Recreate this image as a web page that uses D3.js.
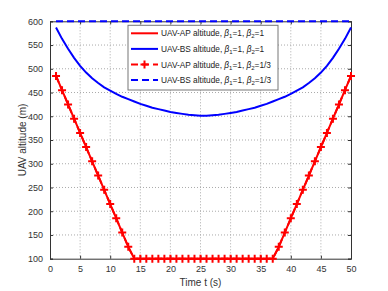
<!DOCTYPE html>
<html>
<head>
<meta charset="utf-8">
<script src="https://cdn.jsdelivr.net/npm/d3@7"></script>
<style>
  body { margin: 0; background: #fff; }
  text { font-family: "Liberation Sans", Arial, sans-serif; }
</style>
</head>
<body>
<div id="chart"></div>
<script>
var width = 388, height = 291;

// time axis (s)
var timeSteps = d3.range(1, 51);

// UAV-AP altitude, beta1=1, beta2=1
var apAltB1 = [485, 455, 425, 395, 365, 335, 305, 275, 245, 215, 185, 155, 125,
               100, 100, 100, 100, 100, 100, 100, 100, 100, 100, 100, 100, 100,
               100, 100, 100, 100, 100, 100, 100, 100, 100, 100, 100,
               125, 155, 185, 215, 245, 275, 305, 335, 365, 395, 425, 455, 485];
// UAV-BS altitude, beta1=1, beta2=1
var bsAltB1 = [587, 563, 542, 523, 506, 492, 480, 470, 461, 454, 447, 441, 436,
               431, 426, 422, 418, 415, 412, 409, 407, 405, 403, 402, 401,
               401, 402, 403, 405, 407, 409, 412, 415, 418, 422, 426, 431, 436,
               441, 447, 454, 461, 470, 480, 492, 506, 523, 542, 563, 587];
// UAV-AP altitude, beta1=1, beta2=1/3
var apAltB13 = [485, 455, 425, 395, 365, 335, 305, 275, 245, 215, 185, 155, 125,
                100, 100, 100, 100, 100, 100, 100, 100, 100, 100, 100, 100, 100,
                100, 100, 100, 100, 100, 100, 100, 100, 100, 100, 100,
                125, 155, 185, 215, 245, 275, 305, 335, 365, 395, 425, 455, 485];
// UAV-BS altitude, beta1=1, beta2=1/3
var bsAltB13 = [600, 600, 600, 600, 600, 600, 600, 600, 600, 600, 600, 600, 600,
                600, 600, 600, 600, 600, 600, 600, 600, 600, 600, 600, 600,
                600, 600, 600, 600, 600, 600, 600, 600, 600, 600, 600, 600, 600,
                600, 600, 600, 600, 600, 600, 600, 600, 600, 600, 600, 600];

var xTicks = d3.range(0, 51, 5);
var yTicks = d3.range(100, 601, 50);

var legendLabels = ["UAV-AP altitude, ", "UAV-BS altitude, ", "UAV-AP altitude, ", "UAV-BS altitude, "];
var legendBeta2 = ["1", "1", "1/3", "1/3"];

var margin = {left: 50, right: 37, top: 21.3, bottom: 32.3};
var plotW = width - margin.left - margin.right;
var plotH = height - margin.top - margin.bottom;

var svg = d3.select("#chart")
            .append("svg")
            .attr("width", width)
            .attr("height", height);

svg.append("rect").attr("width", width).attr("height", height).attr("fill", "#fff");

var g = svg.append("g").attr("transform", "translate(" + margin.left + "," + margin.top + ")");

var x = d3.scaleLinear().domain([0, 50]).range([0, plotW]);
var y = d3.scaleLinear().domain([100, 600]).range([plotH, 0]);

// grid
g.selectAll(".vgrid").data(xTicks.slice(1, -1)).enter().append("line")
  .attr("x1", d => x(d)).attr("x2", d => x(d))
  .attr("y1", 0).attr("y2", plotH)
  .attr("stroke", "#aaa").attr("stroke-width", 1).attr("stroke-dasharray", "1,2");
g.selectAll(".hgrid").data(yTicks.slice(1, -1)).enter().append("line")
  .attr("x1", 0).attr("x2", plotW)
  .attr("y1", d => y(d)).attr("y2", d => y(d))
  .attr("stroke", "#aaa").attr("stroke-width", 1).attr("stroke-dasharray", "1,2");

// axes (matlab style: inward ticks)
var axisColor = "#333";
g.append("g").attr("transform", "translate(0," + plotH + ")")
  .call(d3.axisBottom(x).tickValues(xTicks).tickSize(-3).tickPadding(7));
g.append("g")
  .call(d3.axisLeft(y).tickValues(yTicks).tickSize(-3).tickPadding(7));
g.append("g").call(d3.axisTop(x).tickValues(xTicks).tickSize(-3).tickFormat(""));
g.append("g").attr("transform", "translate(" + plotW + ",0)")
  .call(d3.axisRight(y).tickValues(yTicks).tickSize(-3).tickFormat(""));
g.selectAll(".domain").attr("stroke", axisColor);
g.selectAll(".tick line").attr("stroke", axisColor);
g.selectAll(".tick text").attr("fill", "#333").style("font-size", "9px")
  .style("font-family", "'Liberation Sans', Arial, sans-serif");

// series
var line = d3.line().x((d, i) => x(timeSteps[i])).y(d => y(d));

g.append("path").datum(apAltB1).attr("d", line)
  .attr("fill", "none").attr("stroke", "#f00").attr("stroke-width", 2);
g.append("path").datum(bsAltB1).attr("d", line)
  .attr("fill", "none").attr("stroke", "#00f").attr("stroke-width", 2);
g.append("path").datum(apAltB13).attr("d", line)
  .attr("fill", "none").attr("stroke", "#f00").attr("stroke-width", 2)
  .attr("stroke-dasharray", "7,4");
g.append("path").datum(bsAltB13).attr("d", line)
  .attr("fill", "none").attr("stroke", "#00f").attr("stroke-width", 2)
  .attr("stroke-dasharray", "7,4");

// plus markers
function plusPath(s) {
  return "M" + (-s) + ",0H" + s + "M0," + (-s) + "V" + s;
}
g.selectAll(".mk").data(apAltB13).enter().append("path")
  .attr("transform", (d, i) => "translate(" + x(timeSteps[i]) + "," + y(d) + ")")
  .attr("d", plusPath(4))
  .attr("stroke", "#f00").attr("stroke-width", 2).attr("fill", "none");

// axis labels
svg.append("text").attr("x", margin.left + plotW / 2).attr("y", 286)
  .attr("text-anchor", "middle").attr("fill", "#333").style("font-size", "10px")
  .text("Time t (s)");
svg.append("text")
  .attr("transform", "translate(26," + (margin.top + plotH / 2) + ") rotate(-90)")
  .attr("text-anchor", "middle").attr("fill", "#333").style("font-size", "10px")
  .text("UAV altitude (m)");

// legend
var leg = svg.append("g").attr("transform", "translate(128,25.3)");
leg.append("rect").attr("width", 150).attr("height", 64.7)
  .attr("fill", "#fff").attr("stroke", "#777").attr("stroke-width", 1);
var legColors = ["#f00", "#00f", "#f00", "#00f"];
var legDash = [null, null, "7,4", "7,4"];
var rows = leg.selectAll(".row").data(legendLabels).enter().append("g")
  .attr("transform", (d, i) => "translate(0," + (8 + i * 15.6) + ")");
rows.append("line").attr("x1", 3).attr("x2", 30).attr("y1", 0).attr("y2", 0)
  .attr("stroke", (d, i) => legColors[i]).attr("stroke-width", 2)
  .attr("stroke-dasharray", (d, i) => legDash[i]);
rows.filter((d, i) => i === 2).append("path")
  .attr("transform", "translate(16.5,0)").attr("d", plusPath(4))
  .attr("stroke", "#f00").attr("stroke-width", 2).attr("fill", "none");
var lt = rows.append("text").attr("x", 33).attr("y", 3).attr("fill", "#222")
  .style("font-size", "8.3px");
lt.append("tspan").text(d => d);
lt.append("tspan").attr("font-style", "italic").text("\u03b2");
lt.append("tspan").attr("dy", 2).style("font-size", "6px").text("1");
lt.append("tspan").attr("dy", -2).text("=1, ");
lt.append("tspan").attr("font-style", "italic").text("\u03b2");
lt.append("tspan").attr("dy", 2).style("font-size", "6px").text("2");
lt.append("tspan").attr("dy", -2).text((d, i) => "=" + legendBeta2[i]);
</script>
</body>
</html>
